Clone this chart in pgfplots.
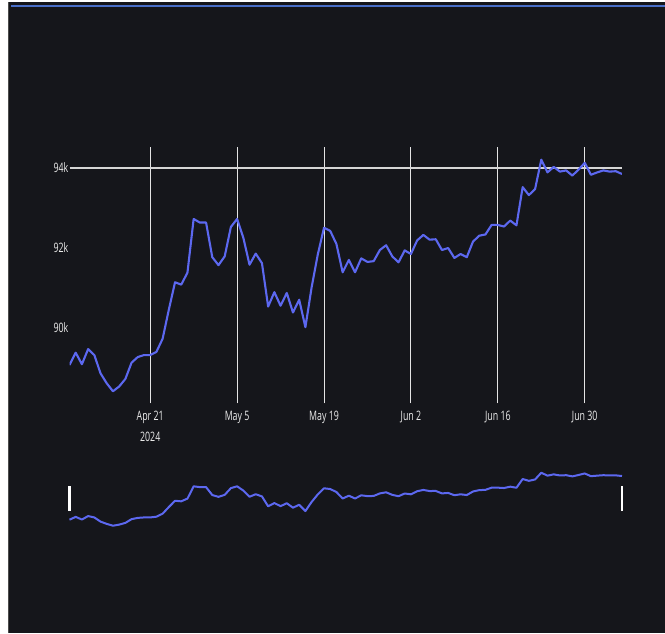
\documentclass[border=0pt]{standalone}
\usepackage{pgfplots}
\pgfplotsset{compat=1.18}
\usepackage{pgfplotstable}
\usepackage{fontspec}
\setmainfont{Open Sans}
\newfontfamily\tickfont[FakeStretch=0.68]{Open Sans}

\definecolor{bg}{RGB}{21,22,27}
\definecolor{btc}{RGB}{92,104,240}
\definecolor{gridc}{RGB}{228,228,228}
\definecolor{txt}{RGB}{236,236,236}
\definecolor{topbar}{RGB}{72,110,200}

% daily close, in thousands, day 0 = Apr 8 2024
\pgfplotstableread{
day val
0 89.05
1 89.36
2 89.07
3 89.45
4 89.30
5 88.84
6 88.59
7 88.39
8 88.51
9 88.70
10 89.11
11 89.25
12 89.30
13 89.30
14 89.38
15 89.71
16 90.44
17 91.13
18 91.07
19 91.37
20 92.72
21 92.63
22 92.63
23 91.76
24 91.56
25 91.78
26 92.52
27 92.72
28 92.25
29 91.57
30 91.85
31 91.61
32 90.52
33 90.88
34 90.54
35 90.86
36 90.37
37 90.69
38 90.00
39 91.00
40 91.83
41 92.50
42 92.42
43 92.09
44 91.38
45 91.69
46 91.38
47 91.73
48 91.64
49 91.66
50 91.94
51 92.06
52 91.78
53 91.63
54 91.93
55 91.84
56 92.18
57 92.32
58 92.20
59 92.21
60 91.94
61 91.99
62 91.74
63 91.84
64 91.76
65 92.15
66 92.30
67 92.33
68 92.57
69 92.57
70 92.53
71 92.68
72 92.56
73 93.52
74 93.32
75 93.47
76 94.21
77 93.89
78 94.03
79 93.91
80 93.94
81 93.81
82 93.96
83 94.13
84 93.83
85 93.89
86 93.94
87 93.91
88 93.92
89 93.85
}\prices

\begin{document}
\begin{tikzpicture}[x=1pt,y=1pt]
\fill[white] (0,0) rectangle (665,633);
\useasboundingbox (0,0) rectangle (665,633);
\fill[bg] (8.5,0) rectangle (665,630.5);
\draw[gray!60!black, line width=1pt] (8.5,0) -- (8.5,630.5);
\fill[topbar] (11,626.3) rectangle (665,628.3);

% main chart
\begin{axis}[
  at={(69.5pt,229.7pt)}, anchor=south west,
  scale only axis, width=552.5pt, height=256.6pt,
  xmin=0, xmax=89, ymin=88.088, ymax=94.536,
  axis line style={draw=none},
  major tick length=0pt,
  xtick={13,27,41,55,69,83},
  xticklabels={{Apr 21\\2024},May 5,May 19,Jun 2,Jun 16,Jun 30},
  ytick={90,92,94}, yticklabels={90k,92k,94k},
  xmajorgrids, major grid style={gridc, line width=0.9pt},
  tick label style={font=\fontsize{13}{21}\tickfont, text=txt, inner sep=0pt},
  xticklabel style={anchor=north, align=center, yshift=-7.5pt},
  yticklabel style={anchor=east, xshift=-1pt},
]
\addplot[gridc!85!gray, line width=2pt, forget plot] coordinates {(0,94) (89,94)};
\addplot[btc, line width=2.1pt, line join=round] table[x=day, y=val]{\prices};
\end{axis}

% range slider
\begin{axis}[
  at={(69.5pt,101pt)}, anchor=south west,
  scale only axis, width=552.5pt, height=66pt,
  xmin=0, xmax=89, ymin=87.70, ymax=94.95,
  hide axis, clip=false,
]
\addplot[btc, line width=2pt, line join=round] table[x=day, y=val]{\prices};
\addplot[white, line width=2.5pt] coordinates {(0,90.0) (0,92.75)};
\addplot[white, line width=2.5pt] coordinates {(89,90.0) (89,92.75)};
\end{axis}
\end{tikzpicture}
\end{document}
